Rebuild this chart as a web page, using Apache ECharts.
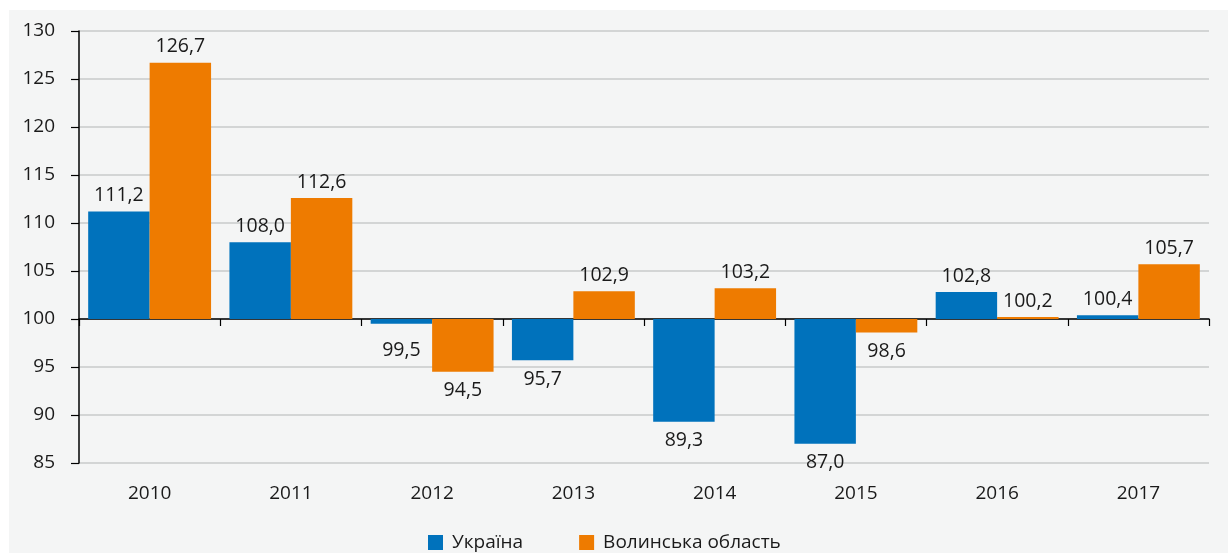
<!DOCTYPE html>
<html>
<head>
<meta charset="utf-8">
<script src="https://cdn.jsdelivr.net/npm/echarts@6/dist/echarts.min.js"></script>
<style>
html,body{margin:0;padding:0;background:#ffffff;}
#chart{width:1228px;height:554px;}
</style>
</head>
<body>
<div id="chart"></div>
<script>
const categories = ['2010','2011','2012','2013','2014','2015','2016','2017'];
const ukraine = [111.2, 108.0, 99.5, 95.7, 89.3, 87.0, 102.8, 100.4];
const volyn = [126.7, 112.6, 94.5, 102.9, 103.2, 98.6, 100.2, 105.7];
const seriesNames = ['Україна', 'Волинська область'];
const yTicks = [85, 90, 95, 100, 105, 110, 115, 120, 125, 130];
const BASE = 100;

const FONT = '"Open Sans", "Noto Sans", sans-serif';

function fmt(v){ return v.toFixed(1).replace('.', ','); }

function makeData(arr){
  return arr.map(function(v){
    const d = +(v - BASE).toFixed(1);
    const up = v >= BASE;
    let dist = up ? 6 : 9;
    if (!up && Math.abs(v - BASE) < 1) dist = 17;
    return {
      value: d,
      label: { position: up ? 'top' : 'bottom', distance: dist }
    };
  });
}

function makeSeries(name, arr, color){
  return {
    name: name,
    type: 'bar',
    xAxisIndex: 0,
    data: makeData(arr),
    barGap: '0%',
    barCategoryGap: '13%',
    itemStyle: { color: color },
    label: {
      show: true,
      color: '#1a1a1a',
      fontFamily: FONT,
      fontSize: 19.5,
      formatter: function(p){ return fmt(arr[p.dataIndex]); }
    }
  };
}

const chart = echarts.init(document.getElementById('chart'));
chart.setOption({
  animation: false,
  backgroundColor: 'transparent',
  graphic: [{
    type: 'rect', z: -10, silent: true,
    shape: { x: 9, y: 10, width: 1219, height: 543 },
    style: { fill: '#f4f5f5' }
  }],
  grid: { left: 79, right: 19, top: 31, bottom: 91, containLabel: false },
  legend: {
    data: seriesNames,
    left: 428, top: 533, padding: 0,
    icon: 'rect', itemWidth: 15, itemHeight: 15, itemGap: 56,
    textStyle: { fontFamily: FONT, fontSize: 19, color: '#1a1a1a', padding: [0,0,0,4] }
  },
  xAxis: [{
    type: 'category',
    data: categories,
    position: 'bottom',
    axisLine: { show: false, onZero: false },
    axisTick: { show: false },
    axisLabel: { fontFamily: FONT, fontSize: 19, color: '#1a1a1a', margin: 21 }
  }, {
    type: 'category',
    data: categories,
    position: 'bottom',
    axisLine: { show: true, onZero: true, lineStyle: { color: '#000', width: 1.5 } },
    axisTick: { show: true, inside: false, length: 7, lineStyle: { color: '#000', width: 1.2 } },
    axisLabel: { show: false }
  }],
  yAxis: {
    type: 'value',
    min: yTicks[0] - BASE,
    max: yTicks[yTicks.length - 1] - BASE,
    interval: 5,
    axisLine: { show: true, lineStyle: { color: '#000', width: 1.5 } },
    axisTick: { show: true, length: 8, lineStyle: { color: '#000', width: 1.2 } },
    axisLabel: {
      fontFamily: FONT, fontSize: 19, color: '#1a1a1a', margin: 24,
      formatter: function(v){ return String(Math.round(v + BASE)); }
    },
    splitLine: { show: true, lineStyle: { color: '#c9caca', width: 1.5 } }
  },
  series: [
    makeSeries(seriesNames[0], ukraine, '#0072bc'),
    makeSeries(seriesNames[1], volyn, '#ee7b00')
  ]
});
</script>
</body>
</html>
